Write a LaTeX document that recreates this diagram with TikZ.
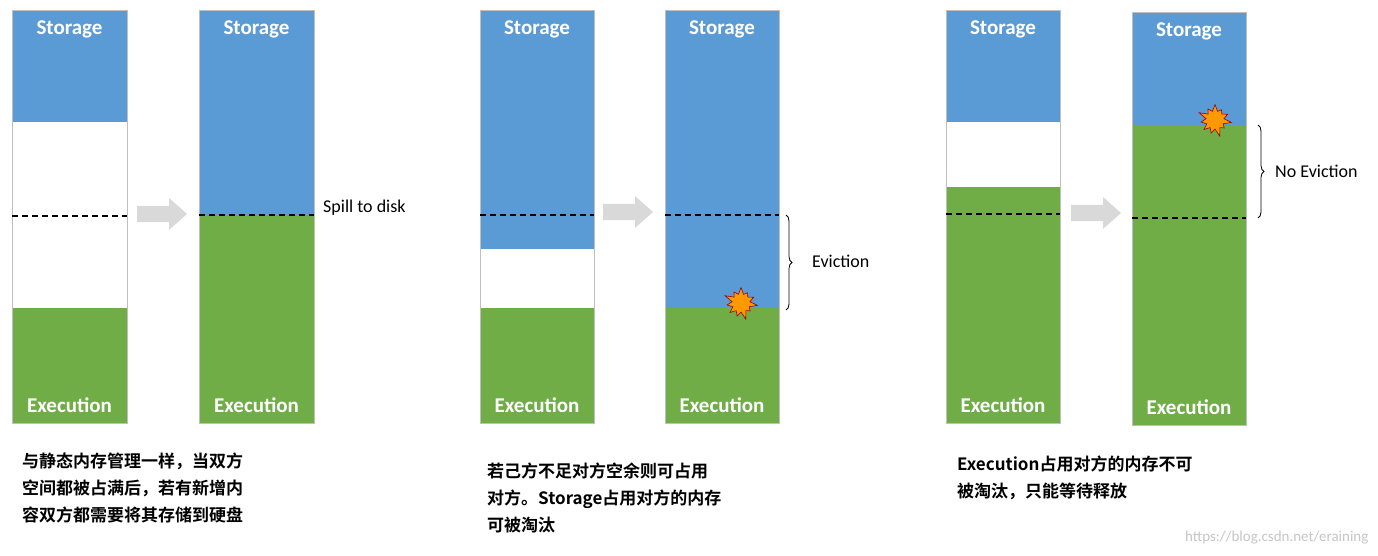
\documentclass[tikz,border=0pt]{standalone}
\usepackage{fontspec}
\setmainfont{Carlito}
\newfontfamily\cjk{Noto Sans CJK SC}[BoldFont=* Bold]
\usetikzlibrary{shapes.symbols,decorations.pathreplacing}
\definecolor{sblue}{HTML}{5B9BD5}
\definecolor{egreen}{HTML}{70AD47}
\tikzset{
  x=1pt,y=-1pt,
  bar/.style={draw=gray!50,line width=0.8pt},
  lbl/.style={text=white,font=\bfseries\fontsize{21}{22}\selectfont},
  dline/.style={dashed,line width=1.6pt,dash pattern=on 6pt off 4pt},
  garrow/.style={fill=gray!30,draw=none},
  boom/.style={starburst,starburst points=11,starburst point height=9pt,fill=orange!80!yellow,draw=red!60!black,line width=0.6pt,minimum size=36pt,inner sep=0pt},
  captext/.style={align=left,anchor=north west,font=\cjk\bfseries\fontsize{17}{27}\selectfont,inner sep=0pt},
  brace/.style={decorate,decoration={brace,amplitude=6pt},line width=0.8pt},
  side/.style={anchor=west,font=\fontsize{18}{19}\selectfont,inner sep=0pt}
}
\newcommand{\membar}[7]{% x1 x2 top blueEnd greenStart bottom dash
  \fill[sblue] (#1,#3) rectangle (#2,#4);
  \fill[white] (#1,#4) rectangle (#2,#5);
  \fill[egreen] (#1,#5) rectangle (#2,#6);
  \draw[bar] (#1,#3) rectangle (#2,#6);
  \draw[dline] (#1,#7) -- (#2,#7);
  \node[lbl] at ({(#1+#2)/2},{#3+19}) {Storage};
  \node[lbl] at ({(#1+#2)/2},{#6-18}) {Execution};
}
\newcommand{\grarrow}[2]{% left x, center y
  \fill[garrow] (#1,#2-8) -- ++(32,0) -- ++(0,-8) -- ++(18,16) -- ++(-18,16) -- ++(0,-8) -- ++(-32,0) -- cycle;
}
\begin{document}
\begin{tikzpicture}
\useasboundingbox[fill=white] (0,0) rectangle (1378,556);
\membar{12}{127}{10}{122}{308}{423}{216}
\membar{199}{314}{10}{215}{215}{423}{215}
\membar{480}{594}{10}{249}{308}{423}{215}
\membar{665}{779}{10}{308}{308}{423}{215}
\membar{946}{1060}{10}{122}{187}{423}{214}
\membar{1132}{1246}{12}{125}{125}{425}{218}
\grarrow{137}{214}
\grarrow{603}{212}
\grarrow{1071}{213}
\node[side] (spill) at (323,208) {Spill to disk};
\node[boom] (b1) at (741,303) {};
\node[boom] (b2) at (1215,120) {};
\coordinate (e1) at (786,215); \coordinate (e2) at (786,310);
\draw[brace] (e1) -- (e2);
\node[side] (ev) at (812,261) {Eviction};
\coordinate (n1) at (1258,125); \coordinate (n2) at (1258,218);
\draw[brace] (n1) -- (n2);
\node[side] (nev) at (1275,171) {No Eviction};
\node[captext] (c1) at (22,453) {与静态内存管理一样，当双方\\空间都被占满后，若有新增内\\容双方都需要将其存储到硬盘};
\node[captext] (c2) at (487,463) {若己方不足对方空余则可占用\\对方。Storage占用对方的内存\\可被淘汰};
\node[captext] (c3) at (957,456) {Execution占用对方的内存不可\\被淘汰，只能等待释放};
\node[anchor=east,text=gray!45,font=\fontsize{15}{16}\selectfont] (wm) at (1372,538) {https://blog.csdn.net/eraining};
\end{tikzpicture}
\end{document}
